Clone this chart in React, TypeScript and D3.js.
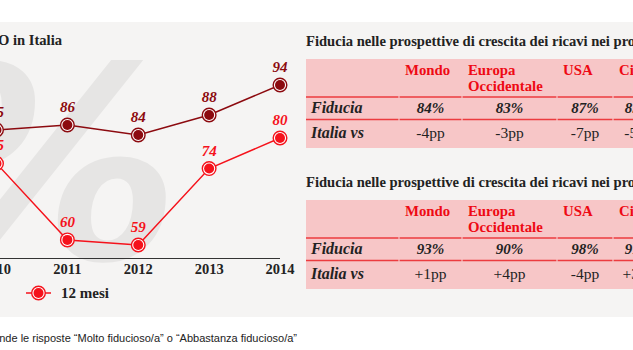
import React from "react";
import * as d3 from "d3";

const years = ["2010", "2011", "2012", "2013", "2014"];
const seriesLong = [85, 86, 84, 88, 94]; // 3 anni (dark)
const seriesShort = [75, 60, 59, 74, 80]; // 12 mesi (light)
const legendLabel = "12 mesi";

const tableCols = ["Mondo", "Europa\nOccidentale", "USA", "Cina"];
const table1Fiducia = ["84%", "83%", "87%", "85%"];
const table1Italia = ["-4pp", "-3pp", "-7pp", "-5pp"];
const table2Fiducia = ["93%", "90%", "98%", "91%"];
const table2Italia = ["+1pp", "+4pp", "-4pp", "+3pp"];
const tableTitle = "Fiducia nelle prospettive di crescita dei ricavi nei prossimi";

const DARK = "#8c0a0f";
const LIGHT = "#f5121b";
const SERIF2 = "'Liberation Serif', serif";

function Marker({ x, y, color }: { x: number; y: number; color: string }) {
  return (
    <g>
      <circle cx={x} cy={y} r={6.8} fill="#fff" stroke={color} strokeWidth={1.4} />
      <circle cx={x} cy={y} r={5} fill={color} />
    </g>
  );
}

function Table({ y0, title, fid, ita }: { y0: number; title: string; fid: string[]; ita: string[] }) {
  const colEdges = [306, 399, 462, 557, 613, 680];
  const top = y0;
  const hdrBottom = top + 38;
  const row1Bottom = hdrBottom + 22.5;
  const bottom = top + 89;
  return (
    <g>
      <text x={306} y={top - 13} fontFamily={SERIF2} fontWeight="bold" fontSize={14.6} fill="#222">
        {title}
      </text>
      <rect x={306} y={top} width={340} height={bottom - top} fill="#f7c6c7" />
      {colEdges.slice(0, -1).map((x0, i) => (
        <g key={i}>
          <line x1={x0 + (i === 0 ? 0 : 0.6)} x2={colEdges[i + 1] - 0.6} y1={hdrBottom} y2={hdrBottom} stroke="#ec3b3f" strokeWidth={1.6} />
          <line x1={x0 + (i === 0 ? 0 : 0.6)} x2={colEdges[i + 1] - 0.6} y1={row1Bottom} y2={row1Bottom} stroke="#ec3b3f" strokeWidth={1.6} />
        </g>
      ))}
      {tableCols.map((c, i) => (
        <text key={c} x={colEdges[i + 1] + 6} y={top + 16} fontFamily={SERIF2} fontWeight="bold" fontSize={14.8} fill="#ee0a14">
          {c.split("\n").map((l, j) => (
            <tspan key={j} x={colEdges[i + 1] + 6} dy={j === 0 ? 0 : 16}>{l}</tspan>
          ))}
        </text>
      ))}
      <text x={311} y={hdrBottom + 16} fontFamily={SERIF2} fontWeight="bold" fontStyle="italic" fontSize={16} fill="#222">Fiducia</text>
      <text x={311} y={row1Bottom + 18} fontFamily={SERIF2} fontWeight="bold" fontStyle="italic" fontSize={16} fill="#222">Italia vs</text>
      {fid.map((v, i) => (
        <text key={i} x={(colEdges[i + 1] + colEdges[i + 2]) / 2 + (i === 3 ? -8 : 0)} y={hdrBottom + 16} textAnchor="middle" fontFamily={SERIF2} fontWeight="bold" fontStyle="italic" fontSize={15} fill="#222">{v}</text>
      ))}
      {ita.map((v, i) => (
        <text key={i} x={(colEdges[i + 1] + colEdges[i + 2]) / 2 + (i === 3 ? -8 : 0)} y={row1Bottom + 18} textAnchor="middle" fontFamily={SERIF2} fontSize={15.5} fill="#222">{v}</text>
      ))}
    </g>
  );
}

export default function App() {
  const x = d3.scalePoint<string>().domain(years).range([-3.5, 280]);
  const yDark = d3.scaleLinear().domain([84, 94]).range([135, 85]);
  const yLight = d3.scaleLinear().domain([59, 80]).range([245, 138]);

  const lineDark = d3.line<number>().x((_, i) => x(years[i])!).y((d) => yDark(d));
  const lineLight = d3.line<number>().x((_, i) => x(years[i])!).y((d) => yLight(d));

  return (
    <svg width={633} height={350} style={{ position: "fixed", left: 0, top: 0 }}>
      <rect x={0} y={0} width={633} height={350} fill="#fff" />
      <rect x={0} y={22} width={633} height={295} fill="#f5f4f3" />
      {/* watermark */}
      <text x={-88} y={259} fontFamily="'DejaVu Sans', sans-serif" fontWeight="bold" fontStyle="italic" fontSize={268} fill="#e6e5e4">%</text>

      <text x={62} y={45} textAnchor="end" fontFamily={SERIF2} fontWeight="bold" fontSize={14.6} fill="#222">
        Fiducia dei CEO in Italia
      </text>

      <line x1={0} x2={280} y1={258.5} y2={258.5} stroke="#333" strokeWidth={1} />
      {years.map((yr) => (
        <text key={yr} x={x(yr)!} y={274} textAnchor="middle" fontFamily={SERIF2} fontWeight="bold" fontSize={14.5} fill="#222">{yr}</text>
      ))}

      <path d={lineDark(seriesLong)!} fill="none" stroke={DARK} strokeWidth={1.5} />
      <path d={lineLight(seriesShort)!} fill="none" stroke={LIGHT} strokeWidth={1.5} />
      {seriesLong.map((v, i) => (
        <g key={"d" + i}>
          <Marker x={x(years[i])!} y={yDark(v)} color={DARK} />
          <text x={x(years[i])!} y={yDark(v) - 13} textAnchor="middle" fontFamily={SERIF2} fontWeight="bold" fontStyle="italic" fontSize={15} fill={DARK}>{v}</text>
        </g>
      ))}
      {seriesShort.map((v, i) => (
        <g key={"l" + i}>
          <Marker x={x(years[i])!} y={yLight(v)} color={LIGHT} />
          <text x={x(years[i])!} y={yLight(v) - 13} textAnchor="middle" fontFamily={SERIF2} fontWeight="bold" fontStyle="italic" fontSize={15} fill={LIGHT}>{v}</text>
        </g>
      ))}

      <line x1={26} x2={51} y1={293} y2={293} stroke={LIGHT} strokeWidth={1.5} />
      <Marker x={38.5} y={293} color={LIGHT} />
      <text x={61} y={298} fontFamily={SERIF2} fontWeight="bold" fontSize={15} fill="#222">{legendLabel}</text>

      <text x={297} y={342} textAnchor="end" fontFamily="'Liberation Sans', Arial, sans-serif" fontSize={11} fill="#222">
        Comprende le risposte “Molto fiducioso/a” o “Abbastanza fiducioso/a”
      </text>

      <Table y0={59} title={tableTitle} fid={table1Fiducia} ita={table1Italia} />
      <Table y0={200} title={tableTitle} fid={table2Fiducia} ita={table2Italia} />
    </svg>
  );
}
